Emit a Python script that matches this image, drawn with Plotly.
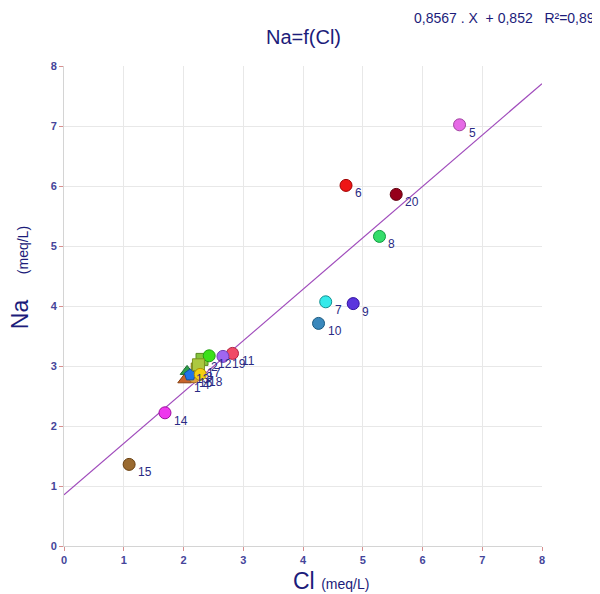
import plotly.graph_objects as go

# ---- data ----
sample_ids = ["1", "2", "3", "4", "5", "6", "7", "8", "9", "10",
              "11", "12", "13", "14", "15", "16", "17", "18", "19", "20"]
cl_values = [2.02, 2.31, 2.23, 2.18, 6.62, 4.72, 4.38, 5.28, 4.84, 4.26,
             2.82, 2.43, 2.06, 1.69, 1.09, 2.11, 2.25, 2.28, 2.66, 5.56]
na_values = [2.77, 3.11, 2.95, 2.82, 7.02, 6.01, 4.07, 5.16, 4.04, 3.71,
             3.21, 3.17, 2.91, 2.22, 1.36, 2.85, 3.02, 2.86, 3.16, 5.86]
marker_symbols = ["triangle-up", "square", "square", "circle", "circle", "circle",
                  "circle", "circle", "circle", "circle",
                  "circle", "circle", "triangle-up", "circle", "circle",
                  "pentagon", "square", "circle", "circle", "circle"]
marker_colors = ["#c8642a", "#86c43c", "#b9b52e", "#e0a040", "#e66ae6", "#ee1515",
                 "#35eaea", "#35dd6a", "#5a35dd", "#3a88bc",
                 "#f04a66", "#3ce01a", "#2e9e4a", "#ee38ee", "#9a6a30",
                 "#1e74ea", "#acc840", "#f4d010", "#a066f0", "#96001a"]
line_colors = ["#8a4010", "#5a8a20", "#7f7a10", "#a07020", "#a040a0", "#a00000",
               "#109090", "#109a40", "#3010a0", "#1a5a80",
               "#b02040", "#20a010", "#1a6a30", "#a010a0", "#6a4010",
               "#1050a0", "#7a9020", "#b09000", "#7040b0", "#600010"]

slope = 0.8567
intercept = 0.852
r2 = 0.89
x_range = [0, 8]
y_range = [0, 8]
tick_vals = [0, 1, 2, 3, 4, 5, 6, 7, 8]

navy = "#1c1c7a"
tick_color = "#45459a"
font_family = "Liberation Sans, Arial, sans-serif"

fig = go.Figure()

# regression line
fig.add_trace(go.Scatter(
    x=x_range,
    y=[slope * v + intercept for v in x_range],
    mode="lines",
    line=dict(color="#a04cbc", width=1.2),
    hoverinfo="skip",
    showlegend=False,
))

# points
fig.add_trace(go.Scatter(
    x=cl_values,
    y=na_values,
    mode="markers",
    marker=dict(size=12, color=marker_colors, symbol=marker_symbols,
                line=dict(color=line_colors, width=1)),
    text=sample_ids,
    showlegend=False,
))

# point labels
for sid, xv, yv in zip(sample_ids, cl_values, na_values):
    fig.add_annotation(
        x=xv, y=yv, xref="x", yref="y", text=sid, showarrow=False,
        xanchor="left", yanchor="middle", xshift=7, yshift=-8,
        font=dict(family=font_family, size=12, color="#2a2a84"),
    )

# title
fig.add_annotation(
    x=0.5, y=1.0, xref="paper", yref="paper", text="Na=f(Cl)", showarrow=False,
    xanchor="center", yanchor="middle", yshift=29,
    font=dict(family=font_family, size=20, color=navy),
)

eq_text = (f"{slope:.4f}".replace(".", ",") + "\u00a0.\u00a0X\u00a0\u00a0+\u00a0"
           + f"{intercept:.3f}".replace(".", ",") + "\u00a0\u00a0\u00a0R²="
           + f"{r2:.2f}".replace(".", ","))

fig.add_annotation(
    x=1.0, y=1.0, xref="paper", yref="paper", text=eq_text, showarrow=False,
    xanchor="right", yanchor="middle", xshift=55, yshift=48,
    font=dict(family=font_family, size=14, color=navy),
)

# axis titles
fig.add_annotation(
    x=0.559, y=0.0, xref="paper", yref="paper",
    text="Cl <span style='font-size:14px'>(meq/L)</span>", showarrow=False,
    xanchor="center", yanchor="middle", yshift=-35,
    font=dict(family=font_family, size=23, color=navy),
)
fig.add_annotation(
    x=0.0, y=0.558, xref="paper", yref="paper", textangle=-90,
    text="Na\u00a0\u00a0\u00a0\u00a0<span style='font-size:14px'>(meq/L)</span>", showarrow=False,
    xanchor="center", yanchor="middle", xshift=-44,
    font=dict(family=font_family, size=23, color=navy),
)

# the page body adds an 8px offset, so the figure is 592x586 with shifted margins
fig.update_layout(
    width=592, height=586,
    margin=dict(l=56, r=58, t=58, b=48, autoexpand=False),
    paper_bgcolor="white", plot_bgcolor="white",
    font=dict(family=font_family),
    showlegend=False,
)

fig.update_xaxes(
    range=x_range, tickvals=tick_vals, showgrid=True, gridcolor="#e8e8e8",
    zeroline=False, showline=True, linecolor="#d4d4d4", linewidth=1,
    ticks="outside", ticklen=4, tickcolor="#d89090",
    tickfont=dict(family=font_family, size=11, color=tick_color, weight="bold"),
    automargin=False, fixedrange=True,
)
fig.update_yaxes(
    range=y_range, tickvals=tick_vals, showgrid=True, gridcolor="#e8e8e8",
    zeroline=False, showline=True, linecolor="#d4d4d4", linewidth=1,
    ticks="outside", ticklen=4, tickcolor="#d89090",
    tickfont=dict(family=font_family, size=11, color=tick_color, weight="bold"),
    automargin=False, fixedrange=True,
)

fig.write_html("out.html")
